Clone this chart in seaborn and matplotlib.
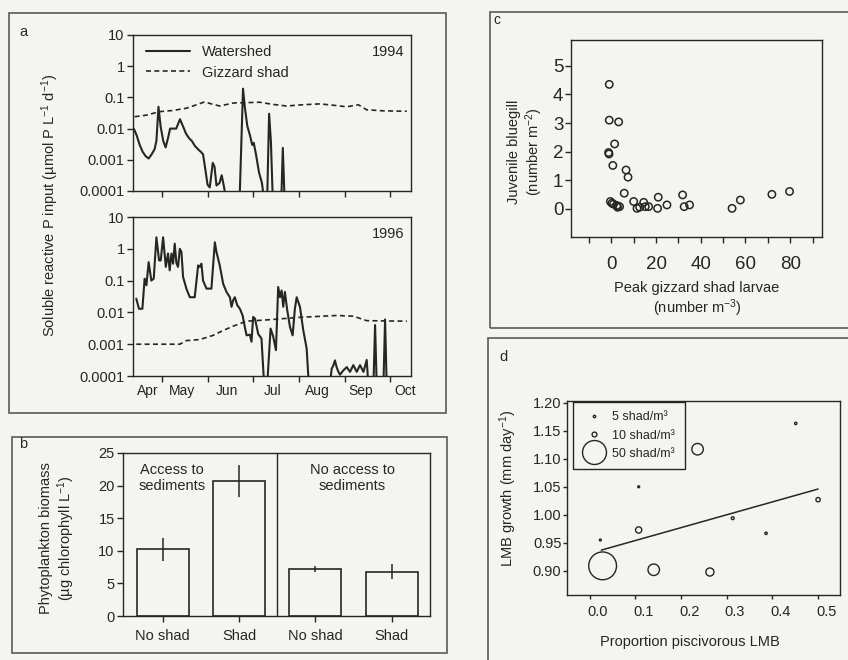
import numpy as np
import pandas as pd
import matplotlib.pyplot as plt
import matplotlib.transforms as mtransforms
from matplotlib.patches import Rectangle
from matplotlib.lines import Line2D
import seaborn as sns

W, H = 848, 660
INK = '#262626'
BG = '#f4f4f1'

# panel a: soluble reactive P input, day of year
ws94_day = [102, 104, 106, 108, 110, 112, 114, 116, 117.2, 118.6, 120, 121.8, 123.4, 125,
            126.4, 130.5, 133, 135, 137, 139, 141, 143, 145, 147, 148.5, 150, 151.5, 153,
            155, 156.2, 157.5, 159.5, 161, 162.5, 164, 173, 175.3, 176.5, 178.2, 180, 181.5,
            182.5, 184, 186, 188, 189.5, 191.5, 192.8, 194, 195.3, 201, 202, 203.2, 207]
ws94_val = [0.010, 0.006, 0.003, 0.0018, 0.0013, 0.0011, 0.0015, 0.0022, 0.004, 0.05, 0.012,
            0.004, 0.0025, 0.005, 0.010, 0.010, 0.020, 0.012, 0.007, 0.005, 0.004, 0.0028,
            0.0022, 0.0018, 0.0015, 0.0005, 0.00016, 0.00013, 0.0008, 0.0006, 0.00015, 0.00018,
            0.00032, 0.00014, 5e-5, 5e-5, 0.19, 0.05, 0.012, 0.006, 0.003, 0.0035, 0.0015,
            0.0004, 0.00018, 5e-5, 5e-5, 0.03, 0.004, 5e-5, 5e-5, 0.0024, 5e-5, 5e-5]

gs94_day = [102.6, 110.5, 119.4, 128, 137.3, 145, 149.7, 154, 159.7, 168.7, 186.6, 195,
            204.5, 215, 226.9, 236, 244.9, 252.7, 258.3, 270, 285.2]
gs94_val = [0.024, 0.027, 0.035, 0.038, 0.045, 0.06, 0.072, 0.062, 0.053, 0.066, 0.07, 0.06,
            0.053, 0.058, 0.062, 0.056, 0.05, 0.058, 0.04, 0.037, 0.036]

ws96_day = [103.7, 105.5, 107.8, 109.3, 110.5, 112.0, 113.8, 115.4, 117.2, 119.0, 120.1, 121.7,
            123.5, 125.0, 126.1, 127.3, 128.4, 129.5, 130.6, 131.7, 132.9, 134.0, 135.1, 137.3,
            139.6, 142.9, 145.2, 146.3, 147.4, 148.5, 150.8, 154.1, 156.4, 157.5, 159.7, 162.0,
            164.2, 166.5, 167.6, 168.7, 169.8, 171.4, 173.2, 175.0, 176.5, 177.7, 179.9, 181.0,
            182.1, 183.3, 185.5, 187.7, 189.5, 191.5, 193.8, 195.6, 197.4, 198.9, 200.1, 201.2,
            202.3, 203.4, 205.0, 206.8, 208.6, 210.1, 211.3, 213.5, 215.7, 218.0, 219.5, 233.5,
            234.8, 236.0, 237.0, 238.1, 239.3, 240.4, 242.6, 244.9, 247.1, 249.3, 251.6, 253.8,
            256.1, 258.3, 259.4, 262.8, 263.9, 265.0, 269.5, 270.6, 271.7, 273]
ws96_val = [0.027, 0.013, 0.013, 0.115, 0.071, 0.38, 0.10, 0.115, 2.3, 0.43, 0.43, 2.3,
            0.27, 0.71, 0.21, 0.71, 0.34, 1.45, 0.36, 0.27, 1.0, 0.79, 0.13, 0.056,
            0.030, 0.030, 0.30, 0.27, 0.34, 0.10, 0.056, 0.056, 1.6, 0.79, 0.30, 0.079,
            0.044, 0.030, 0.015, 0.024, 0.030, 0.017, 0.013, 0.0081, 0.0035, 0.0019, 0.002, 0.0012,
            0.0072, 0.0064, 0.0021, 0.0015, 5e-5, 5e-5, 0.0031, 0.0017, 0.00065, 0.063, 0.030, 0.049,
            0.015, 0.044, 0.0115, 0.0035, 0.0019, 0.013, 0.030, 0.015, 0.0028, 0.00073, 5e-5, 5e-5,
            0.00017, 0.00022, 0.00031, 0.00019, 0.000135, 0.00011, 0.00015, 0.00019, 0.000135, 0.00022, 0.000135, 0.00022,
            0.000135, 0.00032, 5e-5, 5e-5, 0.004, 5e-5, 5e-5, 0.006, 5e-5, 5e-5]

gs96_day = [103.7, 120, 132.9, 137.3, 146.3, 155.3, 162, 168.7, 177.7, 191.1, 213.5, 238.1,
            249.3, 258.3, 270, 285.2]
gs96_val = [0.001, 0.001, 0.001, 0.0013, 0.0014, 0.0019, 0.0027, 0.0037, 0.0053, 0.0058, 0.0070,
            0.0080, 0.0076, 0.0055, 0.0054, 0.0053]

month_names = ['Apr', 'May', 'Jun', 'Jul', 'Aug', 'Sep', 'Oct']
month_label_day = [111.5, 134.5, 164.5, 195, 225, 254, 284]
month_start_day = [121, 152, 182, 213, 244, 274]
log_ticks = [10, 1, 0.1, 0.01, 0.001, 0.0001]
log_labels = ['10', '1', '0.1', '0.01', '0.001', '0.0001']

# panel b: phytoplankton biomass
b_groups = ['access_noshad', 'access_shad', 'noaccess_noshad', 'noaccess_shad']
b_labels = ['No shad', 'Shad', 'No shad', 'Shad']
b_mean = [10.2, 20.7, 7.2, 6.8]
b_se = [1.7, 2.5, 0.45, 1.15]

# panel c: juvenile bluegill vs peak shad larvae
c_shad = [-0.9, -0.9, 3.3, -1.2, -1.0, 1.5, 0.7, 6.6, 7.5, 5.8, -0.4, 0.3, 1.0, 2.5, 3.7, 2.8,
          10.0, 11.5, 12.7, 14.5, 15.2, 16.7, 20.7, 21.0, 24.9, 31.9, 32.6, 35.0, 54.0, 57.7,
          71.8, 79.7]
c_bluegill = [4.35, 3.1, 3.04, 1.97, 1.92, 2.27, 1.52, 1.36, 1.11, 0.55, 0.26, 0.20, 0.17, 0.12,
              0.08, 0.06, 0.26, 0.02, 0.06, 0.23, 0.08, 0.08, 0.02, 0.41, 0.14, 0.49, 0.08, 0.14,
              0.02, 0.31, 0.51, 0.61]

# panel d: LMB growth vs proportion piscivorous
d_prop = [0.023, 0.028, 0.107, 0.107, 0.140, 0.236, 0.263, 0.313, 0.386, 0.451, 0.500]
d_growth = [0.955, 0.909, 1.050, 0.973, 0.902, 1.117, 0.898, 0.994, 0.967, 1.163, 1.027]
d_shad = [4, 58, 4, 13, 24, 24, 17, 6, 5, 5, 9]
d_fit_x = [0.025, 0.50]
d_fit_y = [0.937, 1.046]
d_legend_shad = [5, 10, 50]
d_legend_labels = ['5 shad/m³', '10 shad/m³', '50 shad/m³']

sns.set_theme(style='ticks')
plt.rcParams['font.family'] = ['Liberation Sans', 'DejaVu Sans']
plt.rcParams.update({
    'mathtext.fontset': 'custom',
    'mathtext.rm': 'Liberation Sans',
    'mathtext.it': 'Liberation Sans:italic',
    'text.color': INK,
    'axes.labelcolor': INK,
    'axes.edgecolor': INK,
    'axes.linewidth': 1.0,
    'axes.facecolor': BG,
    'xtick.color': INK,
    'ytick.color': INK,
    'xtick.major.width': 1.0,
    'ytick.major.width': 1.0,
    'xtick.minor.width': 1.0,
    'xtick.major.size': 4,
    'ytick.major.size': 4,
    'xtick.minor.size': 4,
})

fig = plt.figure(figsize=(W / 100, H / 100), dpi=100, facecolor=BG)


def px_rect(x0, y0, x1, y1):
    return [x0 / W, 1 - y1 / H, (x1 - x0) / W, (y1 - y0) / H]


def panel_box(x0, y0, x1, y1):
    fig.add_artist(Rectangle((x0 / W, 1 - y1 / H), (x1 - x0) / W, (y1 - y0) / H,
                             transform=fig.transFigure, fill=False,
                             edgecolor='#5a5a5a', lw=1.2))


def fig_text(x, y, s, **kw):
    fig.text(x / W, 1 - y / H, s, **kw)


panel_box(9, 13, 446, 413)
panel_box(12, 437, 447, 653)
panel_box(490, 12, 852, 328)
panel_box(488, 338, 852, 668)

# ---- panel a
ax_a1 = fig.add_axes(px_rect(133, 35, 411, 191))
ax_a2 = fig.add_axes(px_rect(133, 217, 411, 376))
for ax, wd, wv, gd, gv, year in [(ax_a1, ws94_day, ws94_val, gs94_day, gs94_val, '1994'),
                                 (ax_a2, ws96_day, ws96_val, gs96_day, gs96_val, '1996')]:
    sns.lineplot(x=wd, y=wv, ax=ax, color=INK, lw=1.5, label='Watershed', sort=False)
    sns.lineplot(x=gd, y=gv, ax=ax, color=INK, lw=1.2, linestyle=(0, (3, 2)),
                 label='Gizzard shad', sort=False)
    ax.set_yscale('log')
    ax.set_ylim(1e-4, 10)
    ax.set_xlim(101.5, 288)
    ax.set_yticks(log_ticks)
    ax.set_yticklabels(log_labels)
    ax.yaxis.set_minor_locator(plt.NullLocator())
    ax.set_xticks(month_start_day)
    ax.set_xticklabels([])
    ax.tick_params(axis='y', labelsize=10.5, pad=2)
    ax.text(0.975, 0.89, year, transform=ax.transAxes, ha='right', va='center', fontsize=10.5)
    ax.set_facecolor(BG)

ax_a1.legend(loc='upper left', bbox_to_anchor=(0.0, 1.02), frameon=False, handlelength=3.0,
             handletextpad=0.8, fontsize=10.5, labelspacing=0.45)
ax_a2.get_legend().remove()
ax_a2.set_xticks(month_label_day, minor=True)
ax_a2.set_xticklabels(month_names, minor=True)
ax_a2.tick_params(axis='x', which='minor', length=0, labelsize=10, pad=6)

fig_text(50, 205, 'Soluble reactive P input (µmol P L$^{-1}$ d$^{-1}$)', rotation=90,
         ha='center', va='center', fontsize=10.5)
fig_text(23, 32, 'a', fontsize=10.5, ha='center', va='center')

# ---- panel b
ax_b = fig.add_axes(px_rect(123, 453, 430, 616))
dfb = pd.DataFrame({'group': b_groups, 'chl': b_mean})
sns.barplot(data=dfb, x='group', y='chl', order=b_groups, color=BG, saturation=1,
            edgecolor=INK, linewidth=1.2, width=0.68, errorbar=None, ax=ax_b)
ax_b.errorbar(range(len(b_mean)), b_mean, yerr=b_se, fmt='none', ecolor=INK,
              elinewidth=1.1, capsize=0)
ax_b.axvline(1.5, color=INK, lw=1.0)
ax_b.set_xlim(-0.52, 3.5)
ax_b.set_ylim(0, 25)
ax_b.set_yticks([0, 5, 10, 15, 20, 25])
ax_b.set_xticks(range(4))
ax_b.set_xticklabels(b_labels)
ax_b.set_xlabel('')
ax_b.set_ylabel('')
ax_b.tick_params(axis='y', labelsize=10.5, pad=2)
ax_b.tick_params(axis='x', labelsize=10.5, pad=5)
ax_b.text(0.12, 21.2, 'Access to\nsediments', ha='center', va='center', fontsize=10.5,
          linespacing=1.2)
ax_b.text(2.48, 21.2, 'No access to\nsediments', ha='center', va='center', fontsize=10.5,
          linespacing=1.2)
fig_text(58, 538, 'Phytoplankton biomass\n(µg chlorophyll L$^{-1}$)', rotation=90,
         ha='center', va='center', fontsize=10.5, linespacing=1.1)
fig_text(23, 444, 'b', fontsize=10.5, ha='center', va='center')

# ---- panel c
ax_c = fig.add_axes(px_rect(571, 40, 822, 237))
sns.scatterplot(x=c_shad, y=c_bluegill, ax=ax_c, marker='o', s=28, facecolor='none',
                edgecolor=INK, linewidth=1.1)
ax_c.set_xlim(-18, 94.2)
ax_c.set_ylim(-0.98, 5.9)
ax_c.set_xticks([0, 20, 40, 60, 80])
ax_c.set_xticks(np.arange(-10, 91, 10), minor=True)
ax_c.set_yticks([0, 1, 2, 3, 4, 5])
ax_c.tick_params(axis='both', labelsize=13.5)
ax_c.tick_params(axis='x', pad=10)
ax_c.tick_params(axis='y', pad=1.5)
fig_text(526, 152, 'Juvenile bluegill\n(number m$^{-2}$)', rotation=90, ha='center',
         va='center', fontsize=10.5, linespacing=1.1)
fig_text(697, 300, 'Peak gizzard shad larvae\n(number m$^{-3}$)', ha='center', va='center',
         fontsize=10.5, linespacing=1.15)
fig_text(497, 20, 'c', fontsize=10, ha='center', va='center')

# ---- panel d
PT_PER_SHAD = 0.345
ax_d = fig.add_axes(px_rect(567, 401, 840, 595))
size_pt = [(PT_PER_SHAD * v) ** 2 for v in d_shad]
sns.scatterplot(x=d_prop, y=d_growth, size=size_pt, sizes=(min(size_pt), max(size_pt)),
                size_norm=(min(size_pt), max(size_pt)), legend=False, ax=ax_d, marker='o',
                facecolor='none', edgecolor=INK, linewidth=1.0)
sns.lineplot(x=d_fit_x, y=d_fit_y, ax=ax_d, color=INK, lw=1.1)
ax_d.set_xlim(-0.05, 0.548)
ax_d.set_ylim(0.857, 1.203)
ax_d.set_xticks([0.0, 0.1, 0.2, 0.3, 0.4, 0.5])
ax_d.set_xticklabels(['0.0', '0.1', '0.2', '0.3', '0.4', '0.5'])
ax_d.set_yticks([0.90, 0.95, 1.00, 1.05, 1.10, 1.15, 1.20])
ax_d.set_yticklabels(['0.90', '0.95', '1.00', '1.05', '1.10', '1.15', '1.20'])
ax_d.tick_params(axis='both', labelsize=10.5, length=3)
ax_d.tick_params(axis='x', pad=4)
ax_d.tick_params(axis='y', pad=1)
shift = mtransforms.ScaledTranslation(8 / 100, 0, fig.dpi_scale_trans)
for lbl in ax_d.get_xticklabels():
    lbl.set_transform(lbl.get_transform() + shift)
handles = [Line2D([], [], marker='o', linestyle='none', markersize=PT_PER_SHAD * v,
                  markerfacecolor='none', markeredgecolor=INK, markeredgewidth=1.0)
           for v in d_legend_shad]
leg = ax_d.legend(handles, d_legend_labels, loc='upper left',
                  bbox_to_anchor=(0.022, 0.995), frameon=True, fancybox=False, framealpha=1,
                  facecolor=BG, edgecolor=INK, fontsize=9,
                  handlelength=1.8, handletextpad=0.6, labelspacing=0.5, borderpad=0.75,
                  borderaxespad=0.0)
leg.get_frame().set_linewidth(1.0)
fig_text(508, 488, 'LMB growth (mm day$^{-1}$)', rotation=90, ha='center', va='center',
         fontsize=10.5)
fig_text(690, 642, 'Proportion piscivorous LMB', ha='center', va='center', fontsize=10.5)
fig_text(503, 357, 'd', fontsize=10.5, ha='center', va='center')

fig.savefig('out.png', dpi=100, facecolor=BG)
